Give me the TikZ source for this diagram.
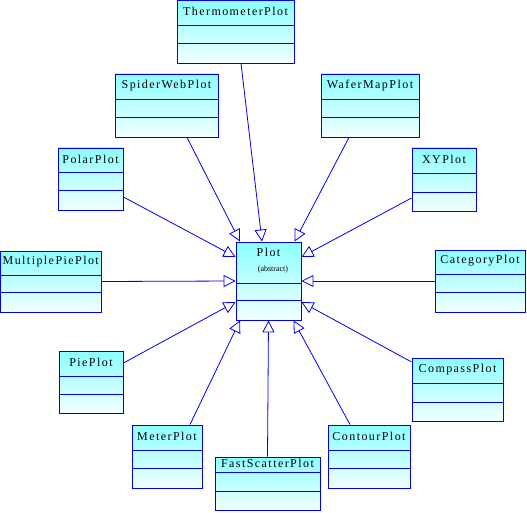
\documentclass[tikz,border=0pt]{standalone}
\usepackage{fontspec}
\setmainfont{Liberation Serif}
\usetikzlibrary{arrows.meta,fit,calc}
\definecolor{umlblue}{RGB}{0,0,235}
\definecolor{topc}{RGB}{140,255,255}
\definecolor{botc}{RGB}{242,255,255}
\tikzset{
 clsbox/.style={draw=umlblue, line width=0.9pt, inner sep=0pt, top color=topc, bottom color=botc},
 sepline/.style={color=umlblue, line width=0.9pt},
 lbl/.style={font=\fontsize{12}{12}\selectfont\addfontfeature{LetterSpace=12}, inner sep=0pt, text=black},
 smalllbl/.style={font=\fontsize{8}{8}\selectfont, inner sep=0pt, text=black},
 gen/.style={color=umlblue, line width=0.8pt, -{Triangle[open, length=12pt, width=12pt]}},
}
\newcommand{\umlclass}[8]{%
 \node[clsbox, fit={(#2,#3) (#4,#5)}] (#1) {};
 \draw[sepline] (#2,#6) -- (#4,#6) (#2,#7) -- (#4,#7);
 \node[lbl] (#1-t) at ({(#2+#4)/2},{(#3+#6)/2-1}) {#8};
}
\begin{document}
\begin{tikzpicture}[x=1pt,y=-1pt]
\useasboundingbox (0,0) rectangle (527,513);
\umlclass{thermo}{177}{0.5}{294}{63}{25}{43}{ThermometerPlot}
\umlclass{spider}{115}{74}{218}{137}{99}{117}{SpiderWebPlot}
\umlclass{wafer}{321}{74}{419}{137}{99}{117}{WaferMapPlot}
\umlclass{polar}{58}{148}{123}{210}{172}{190}{PolarPlot}
\umlclass{xy}{412}{148}{476}{211}{173}{192}{XYPlot}
\umlclass{multi}{0.5}{251}{101}{312}{275}{292}{MultiplePiePlot}
\umlclass{cat}{435}{250}{525}{312}{274}{292}{CategoryPlot}
\umlclass{pie}{59}{351}{123}{413}{376}{394}{PiePlot}
\umlclass{compass}{412}{358}{503}{421}{383}{402}{CompassPlot}
\umlclass{meter}{132}{425}{202}{488}{450}{468}{MeterPlot}
\umlclass{contour}{328}{425}{410}{488}{450}{468}{ContourPlot}
\umlclass{fast}{215}{457}{320}{510}{472}{491}{FastScatterPlot}
% central abstract class
\node[clsbox, fit={(236,242) (301,320)}] (plot) {};
\draw[sepline] (236,283) -- (301,283) (236,300) -- (301,300);
\node[lbl] (plot-t) at (268.5,252) {Plot};
\node[smalllbl] (plot-a) at (273,270) {(abstract)};
% generalisations
\draw[gen] ([xshift=5.5pt]thermo.south) -- ([xshift=-6.5pt]plot.north);
\draw[gen] ([xshift=20.5pt]spider.south) -- ([xshift=-28.5pt]plot.north);
\draw[gen] ([xshift=-21pt]wafer.south) -- ([xshift=26pt]plot.north);
\draw[gen] ([yshift=-18pt]polar.east) -- ([yshift=24pt]plot.west);
\draw[gen] ([yshift=-18.5pt]xy.west) -- ([yshift=24pt]plot.east);
\draw[gen] (multi.east) -- (plot.west);
\draw[gen] (cat.west) -- (plot.east);
\draw[gen] ([yshift=19pt]pie.east) -- ([yshift=-21pt]plot.west);
\draw[gen] ([yshift=27.5pt]compass.west) -- ([yshift=-21pt]plot.east);
\draw[gen] ([xshift=23pt]meter.north) -- ([xshift=-28.5pt]plot.south);
\draw[gen] (fast.north) -- (plot.south);
\draw[gen] ([xshift=-19pt]contour.north) -- ([xshift=25pt]plot.south);
\end{tikzpicture}
\end{document}
